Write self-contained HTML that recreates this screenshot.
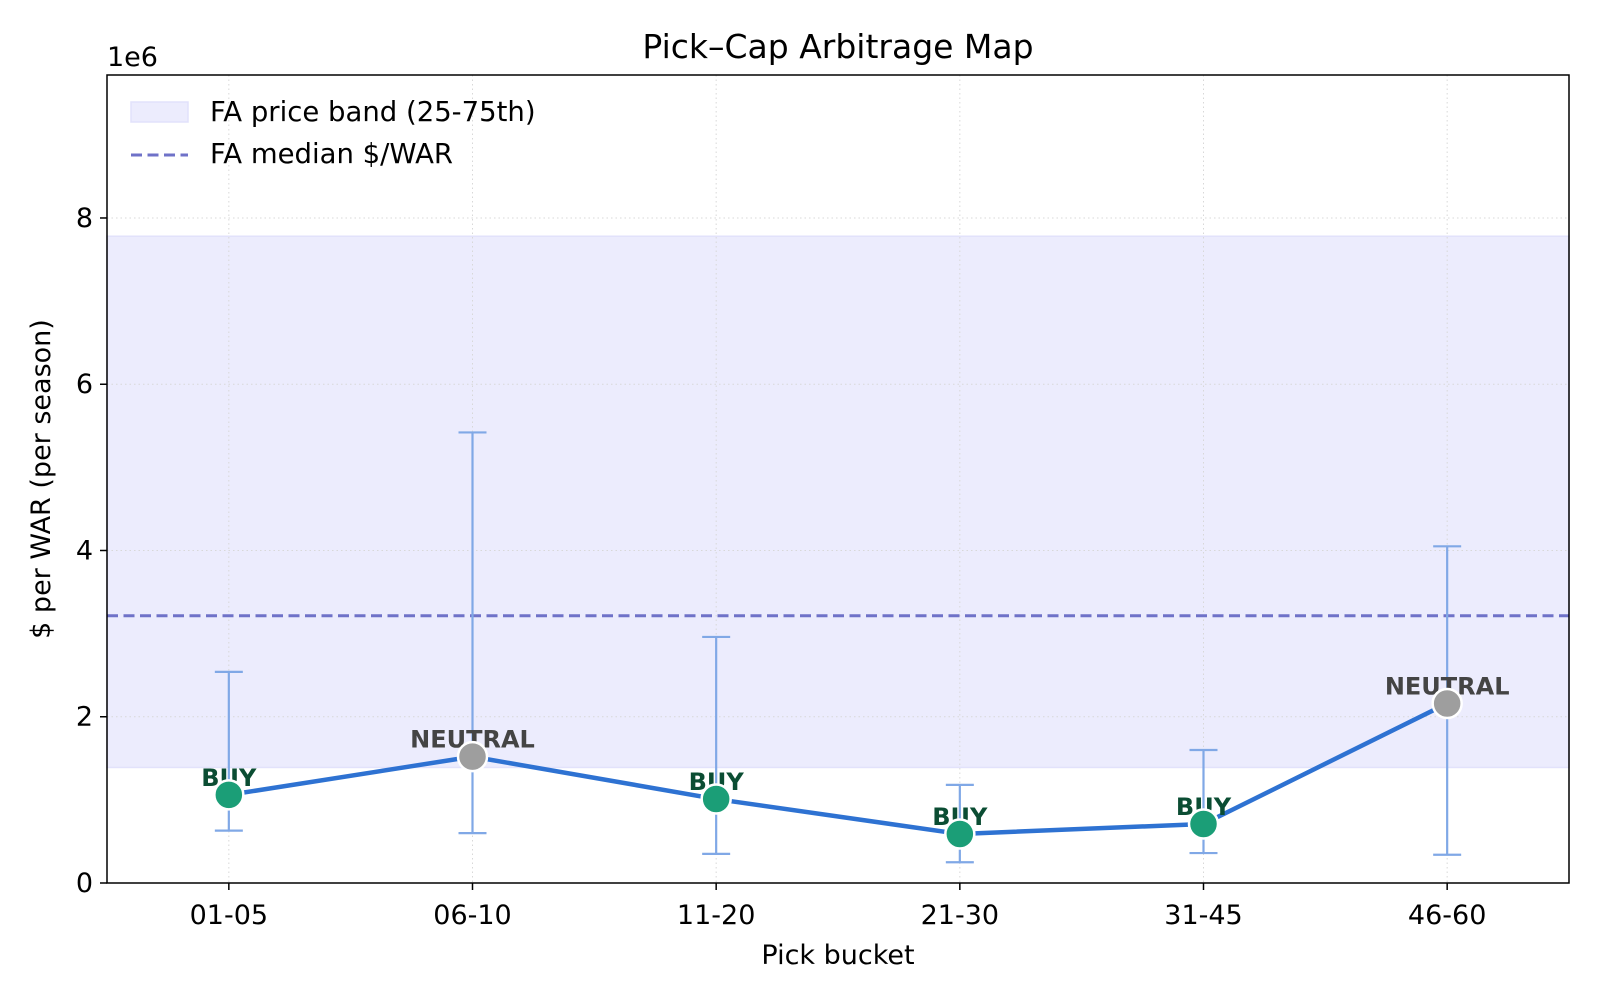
<!DOCTYPE html>
<html><head><meta charset="utf-8"><style>
body{margin:0;background:#fff;}
svg text{font-family:"DejaVu Sans","Liberation Sans",sans-serif;}
</style></head><body>
<svg id="chart" width="1600" height="1000" viewBox="0 0 1600 1000" xmlns="http://www.w3.org/2000/svg"></svg>
<script>
const categories=["01-05","06-10","11-20","21-30","31-45","46-60"];
const values=[1.06,1.52,1.01,0.59,0.71,2.16];
const errHigh=[2.54,5.42,2.96,1.18,1.60,4.05];
const errLow=[0.63,0.60,0.35,0.25,0.36,0.34];
const signals=["BUY","NEUTRAL","BUY","BUY","BUY","NEUTRAL"];
const bandLow=1.39, bandHigh=7.78, median=3.215;
const yTicks=[0,2,4,6,8];

const svg=document.getElementById('chart');
const NS="http://www.w3.org/2000/svg";
const L=107,R=1569,T=75,B=883,YMAX=9.72;
const xs=i=>L+(R-L)*(i+0.5)/categories.length;
const ys=v=>B-(B-T)*v/YMAX;
function el(tag,attrs,name,txt){const e=document.createElementNS(NS,tag);for(const k in attrs)e.setAttribute(k,attrs[k]);


if(txt!==undefined)e.textContent=txt;svg.appendChild(e);return e;}

el('rect',{x:L,y:ys(bandHigh),width:R-L,height:ys(bandLow)-ys(bandHigh),fill:'#ececfd',stroke:'#e2e2fb','stroke-width':1.5},'fa-price-band');
yTicks.forEach(t=>{el('line',{x1:L,x2:R,y1:ys(t),y2:ys(t),stroke:'#d8d8d8','stroke-width':1,'stroke-dasharray':'1.5,3'},'y-gridline');});
categories.forEach((c,i)=>{el('line',{x1:xs(i),x2:xs(i),y1:T,y2:B,stroke:'#d8d8d8','stroke-width':1,'stroke-dasharray':'1.5,3'},'x-gridline');});
el('line',{x1:L,x2:R,y1:ys(median),y2:ys(median),stroke:'#6f72c8','stroke-width':3,'stroke-dasharray':'11,5.5'},'fa-median-line');
categories.forEach((c,i)=>{const x=xs(i);
el('line',{x1:x,x2:x,y1:ys(errHigh[i]),y2:ys(errLow[i]),stroke:'#80a8e6','stroke-width':2.2},'error-bar');
el('line',{x1:x-14,x2:x+14,y1:ys(errHigh[i]),y2:ys(errHigh[i]),stroke:'#80a8e6','stroke-width':2.2},'error-cap-high');
el('line',{x1:x-14,x2:x+14,y1:ys(errLow[i]),y2:ys(errLow[i]),stroke:'#80a8e6','stroke-width':2.2},'error-cap-low');});
el('polyline',{points:values.map((v,i)=>xs(i)+','+ys(v)).join(' '),fill:'none',stroke:'#2e72d2','stroke-width':4.5,'stroke-linejoin':'round'},'median-cost-line');
values.forEach((v,i)=>{const buy=signals[i]==='BUY';
el('text',{x:xs(i),y:ys(v)-9,'text-anchor':'middle','font-size':24,'font-weight':'bold',fill:buy?'#0b4d33':'#444444'},'signal-label',signals[i]);
el('circle',{cx:xs(i),cy:ys(v),r:14.5,fill:buy?'#1b9e77':'#9e9e9e',stroke:'#fff','stroke-width':2.5},'point-'+categories[i]);});
el('rect',{x:L,y:T,width:R-L,height:B-T,fill:'none',stroke:'#000','stroke-width':1.5},'plot-frame');
yTicks.forEach(t=>{el('line',{x1:L-7,x2:L,y1:ys(t),y2:ys(t),stroke:'#000','stroke-width':1.5},'y-tick');
el('text',{x:L-14,y:ys(t)+9,'text-anchor':'end','font-size':27},'y-tick-label',t);});
categories.forEach((c,i)=>{el('line',{x1:xs(i),x2:xs(i),y1:B,y2:B+7,stroke:'#000','stroke-width':1.5},'x-tick');
el('text',{x:xs(i),y:B+41,'text-anchor':'middle','font-size':27},'x-tick-label',c);});
el('text',{x:107,y:66,'font-size':27},'y-scale-label','1e6');
el('text',{x:838,y:58,'text-anchor':'middle','font-size':33},'chart-title','Pick–Cap Arbitrage Map');
el('text',{x:838,y:964,'text-anchor':'middle','font-size':27},'x-axis-title','Pick bucket');
el('text',{x:0,y:0,'text-anchor':'middle','font-size':27,transform:'translate(50,479) rotate(-90)'},'y-axis-title','$ per WAR (per season)');
el('rect',{x:131,y:102,width:57,height:20,fill:'#ececfd',stroke:'#e2e2fb','stroke-width':1.5},'legend-band-swatch');
el('text',{x:210,y:121,'font-size':27.5},'legend-band-label','FA price band (25-75th)');
el('line',{x1:131,x2:188,y1:155,y2:155,stroke:'#6f72c8','stroke-width':3,'stroke-dasharray':'11,5.5'},'legend-median-swatch');
el('text',{x:210,y:163,'font-size':27.5},'legend-median-label','FA median $/WAR');
</script>
</body></html>
